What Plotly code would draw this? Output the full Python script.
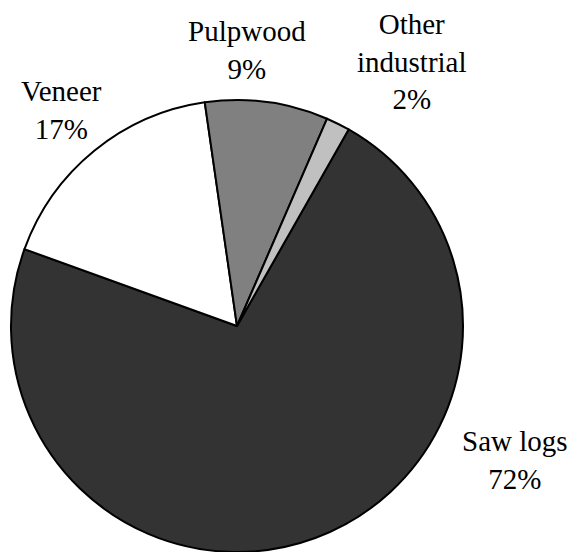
import plotly.graph_objects as go

labels = ["Saw logs", "Veneer", "Pulpwood", "Other industrial"]
values = [72.3, 17.2, 8.8, 1.7]
pct_text = ["72%", "17%", "9%", "2%"]
label_text = ["Saw logs", "Veneer", "Pulpwood", "Other<br>industrial"]
colors = ["#333333", "#ffffff", "#808080", "#c0c0c0"]

W, H = 582, 552
OFF = 8  # page body margin offset
SERIF = "Liberation Serif"
# label block centers in window pixels (x, y from top)
label_pos = [(515, 460), (61, 110), (247, 50), (412, 62)]

fig = go.Figure(go.Pie(
    labels=labels,
    values=values,
    sort=False,
    direction="clockwise",
    rotation=29.6,
    marker=dict(colors=colors, line=dict(color="#000000", width=2)),
    textinfo="none",
    hoverinfo="label+percent",
    showlegend=False,
    domain=dict(x=[(11 - OFF) / W, (463 - OFF) / W],
                y=[(H - (552 - OFF)) / H, 1 - (100 - OFF) / H]),
))

for lt, pt, (px, py) in zip(label_text, pct_text, label_pos):
    fig.add_annotation(
        x=(px - OFF) / W, y=1 - (py - OFF) / H, xref="paper", yref="paper",
        text=f"{lt}<br>{pt}", showarrow=False,
        xanchor="center", yanchor="middle", align="center",
        font=dict(family=SERIF, size=29, color="#000000"),
    )

fig.update_layout(
    width=W, height=H,
    margin=dict(l=0, r=0, t=0, b=0),
    font=dict(family=SERIF, size=29, color="#000000"),
    paper_bgcolor="#ffffff",
    plot_bgcolor="#ffffff",
)

fig.write_html("out.html")
